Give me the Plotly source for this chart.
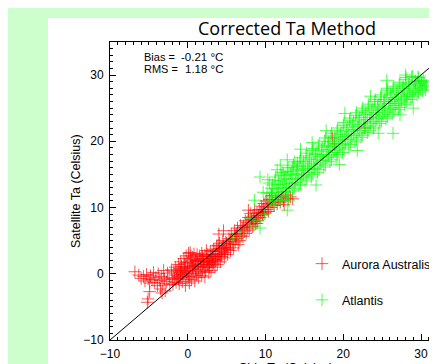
import plotly.graph_objects as go

# ---------------- data ----------------
title_text = "Corrected Ta Method"
x_label = "Ship Ta (Celsius)"
y_label = "Satellite Ta (Celsius)"
series_names = ["Aurora Australis", "Atlantis"]
bias_label, bias_value = "Bias =", "-0.21 °C"
rms_label, rms_value = "RMS =", "1.18 °C"
tick_values = [-10, 0, 10, 20, 30]
one_to_one = [-10, 35]

aurora_x = [
    -6.8, -6.3, -6.0, -5.7, -5.5, -5.3, -5.1, -4.9, -4.8, -4.6,
    -4.4, -4.3, -4.1, -3.9, -3.8, -3.6, -3.5, -3.4, -3.2, -3.1,
    -3.0, -2.9, -2.7, -2.6, -2.4, -2.3, -2.1, -2.0, -5.1, -5.2,
    -4.9, -3.3, -1.9, -1.8, -1.7, -1.6, -1.5, -1.4, -1.3, -1.2,
    -1.1, -1.0, -0.9, -0.9, -0.8, -0.7, -0.6, -0.5, -0.5, -0.4,
    -0.3, -0.2, -0.2, -0.1, 0.0, 0.0, 0.1, 0.2, 0.2, 0.3,
    0.3, 0.4, 0.5, 0.6, 0.6, 0.7, 0.8, 0.9, 1.0, 1.0,
    1.1, 1.2, 1.3, 1.4, 1.4, 1.5, 1.6, 1.7, 1.8, 1.8,
    1.9, 2.0, 2.1, 2.2, 2.2, 2.3, 2.4, 2.5, 2.6, 2.7,
    2.7, 2.8, 2.9, 3.0, 3.0, 3.1, 3.2, 3.3, 3.4, 3.5,
    3.5, 3.6, 3.7, 3.8, 3.9, 4.0, 4.0, 4.1, 4.2, 4.3,
    4.4, 4.5, 4.6, 4.7, 4.8, 4.9, 5.0, 5.1, 5.2, 5.3,
    5.4, 5.5, 5.6, 5.7, 5.8, 5.9, 6.0, 6.1, 6.2, 6.3,
    6.4, 6.5, 6.6, 6.7, 6.8, 6.9, 7.0, 7.1, 7.2, 7.3,
    7.4, 7.5, 7.6, 7.7, 7.8, 7.9, 8.0, 8.1, 8.2, 8.3,
    8.4, 8.5, 8.6, 8.7, 8.8, 8.9, 9.0, 9.1, 9.2, 9.3,
    9.4, 9.5, 9.6, 9.7, 9.8, 9.9, 10.0, 10.1, 10.2, 10.3,
    10.5, 10.7, 10.9, 11.1, 11.3, 11.5, 11.7, 11.9, 12.1, 12.3,
    12.6, 12.9, 13.2, 13.5, 0.3, 4.0, 4.6, 7.8, 18.6, 22.8,
    -0.7, -0.1, 0.5, 1.1, 1.7, 2.4, 3.1, 3.6, -1.2, 0.9,
    2.0, 2.9, 4.4, 5.0, 6.1, 8.9, 10.4, 18.9, 12.4, 10.8,
    -1.5, -1.0, -0.4, 0.1, 0.7, 1.2, 1.6, 2.1, 2.6, 3.2,
    3.8, 4.3, 4.8, -0.9, -0.3, 0.4, 1.3, 1.9, 2.5, 3.3,
    4.1, 4.7, 5.5, 6.3, 7.1, 8.5, 9.7, 0.8, 2.8, 3.9,
]
aurora_y = [
    0.3, -0.2, -0.7, -0.4, -1.1, -0.1, -0.8, -1.4, -0.3, -0.9,
    0.2, -1.3, -0.6, -1.8, 0.0, -1.0, -2.3, -0.4, -1.5, 0.5,
    -0.8, -2.6, -1.2, 0.1, -0.6, -1.7, 0.6, -0.9, -3.8, -4.3,
    -2.7, -2.9, -1.6, 0.3, -0.7, 1.0, -1.3, 0.5, -0.4, 1.4,
    -1.5, 0.2, -0.6, 1.8, 1.1, -1.2, 0.6, -0.3, 2.3, 1.5,
    -1.8, 0.1, 2.7, -0.8, 0.9, 1.7, 3.1, -1.4, 0.5, 2.1,
    -0.4, 1.3, -0.9, 0.8, 2.5, 0.0, 1.6, -1.1, 2.2, 0.6,
    -0.2, 2.9, 1.4, -0.6, 1.1, 2.7, 0.3, 1.9, 3.1, -0.3,
    0.6, 2.2, 1.4, -0.5, 2.8, 0.4, 3.5, 1.2, 2.0, 0.2,
    2.6, 1.0, 3.4, 1.8, 0.5, 2.9, 1.3, 3.7, 2.1, 1.0,
    3.4, 2.6, 4.2, 1.4, 3.0, 2.2, 3.8, 4.6, 1.8, 3.4,
    2.6, 5.0, 4.2, 2.4, 3.2, 4.8, 4.0, 2.9, 3.7, 5.3,
    4.5, 3.5, 6.0, 5.2, 4.4, 3.9, 6.5, 4.8, 5.6, 5.3,
    6.9, 4.4, 6.1, 5.0, 7.3, 5.8, 6.6, 5.6, 7.2, 6.4,
    8.0, 6.1, 7.7, 6.9, 8.5, 6.6, 7.4, 9.1, 8.2, 7.1,
    8.7, 7.9, 9.6, 7.6, 8.4, 9.2, 8.0, 8.8, 9.7, 8.5,
    9.3, 10.2, 8.9, 9.7, 10.6, 9.3, 10.1, 11.0, 9.7, 10.5,
    11.2, 10.0, 10.8, 10.3, 11.2, 10.5, 11.5, 10.8, 11.7, 11.0,
    11.9, 11.3, 11.6, 11.3, 3.2, 6.0, 6.5, 9.6, 20.5, 22.0,
    0.0, 0.3, 1.9, 1.9, 1.0, 1.8, 2.4, 2.0, -0.8, 1.2,
    1.6, 2.3, 3.9, 4.6, 5.9, 7.6, 9.4, 19.6, 10.4, 11.8,
    -0.2, 0.8, 0.4, -0.5, 1.1, 0.1, 2.3, 0.9, 1.4, 2.6,
    2.7, 2.9, 3.6, -0.1, 1.0, 2.7, 2.0, 2.6, 2.9, 1.6,
    3.0, 3.9, 4.9, 6.0, 7.0, 8.1, 9.1, 3.0, 1.7, 4.3,
]

atlantis_x = [
    5.8, 6.7, 8.0, 8.5, 9.0, 9.3, 8.6, 9.3, 9.7, 10.2,
    10.3, 11.5, 12.8, 12.3, 14.1, 13.5, 12.8, 7.2, 9.9, 10.0,
    10.5, 10.7, 10.6, 10.8, 10.5,
    11.1, 10.9, 11.1, 10.9, 11.2,
    11.3, 11.5, 11.4, 11.6, 11.3,
    11.9, 11.7, 11.9, 11.7, 12.0,
    12.1, 12.3, 12.2, 12.4, 12.1,
    12.7, 12.5, 12.7, 12.5, 12.8,
    12.9, 13.1, 13.0, 13.2, 12.9,
    13.5, 13.3, 13.5, 13.3, 13.6,
    13.7, 13.9, 13.8, 14.0, 13.7,
    14.3, 14.1, 14.3, 14.1, 14.4,
    14.5, 14.7, 14.6, 14.8, 14.5,
    15.1, 14.9, 15.1, 14.9, 15.2,
    15.3, 15.5, 15.4, 15.6, 15.3,
    15.9, 15.7, 15.9, 15.7, 16.0,
    16.1, 16.3, 16.2, 16.4, 16.1,
    16.7, 16.5, 16.7, 16.5, 16.8,
    16.9, 17.1, 17.0, 17.2, 16.9,
    17.5, 17.3, 17.5, 17.3, 17.6,
    17.7, 17.9, 17.8, 18.0, 17.7,
    18.3, 18.1, 18.3, 18.1, 18.4,
    18.5, 18.7, 18.6, 18.8, 18.5,
    19.1, 18.9, 19.1, 18.9, 19.2,
    19.3, 19.5, 19.4, 19.6, 19.3,
    19.9, 19.7, 19.9, 19.7, 20.0,
    20.1, 20.3, 20.2, 20.4, 20.1,
    20.7, 20.5, 20.7, 20.5, 20.8,
    20.9, 21.1, 21.0, 21.2, 20.9,
    21.5, 21.3, 21.5, 21.3, 21.6,
    21.7, 21.9, 21.8, 22.0, 21.7,
    22.3, 22.1, 22.3, 22.1, 22.4,
    22.5, 22.7, 22.6, 22.8, 22.5,
    23.1, 22.9, 23.1, 22.9, 23.2,
    23.3, 23.5, 23.4, 23.6, 23.3,
    23.9, 23.7, 23.9, 23.7, 24.0,
    24.1, 24.3, 24.2, 24.4, 24.1,
    24.7, 24.5, 24.7, 24.5, 24.8,
    24.9, 25.1, 25.0, 25.2, 24.9,
    25.5, 25.3, 25.5, 25.3, 25.6,
    25.7, 25.9, 25.8, 26.0, 25.7,
    26.3, 26.1, 26.3, 26.1, 26.4,
    26.5, 26.7, 26.6, 26.8, 26.5,
    27.1, 26.9, 27.1, 26.9, 27.2,
    27.3, 27.5, 27.4, 27.6, 27.3,
    27.9, 27.7, 27.9, 27.7, 28.0,
    28.1, 28.3, 28.2, 28.4, 28.1,
    28.7, 28.5, 28.7, 28.5, 28.8,
    28.9, 29.1, 29.0, 29.2, 28.9,
    29.5, 29.3, 29.5, 29.3, 29.6,
    29.7, 29.9, 29.8, 30.0, 29.7,
    30.2, 30.4, 30.1, 30.3, 30.6, 30.7, 30.5,
    25.6, 25.6, 30.1, 29.0, 27.3, 26.4, 16.0, 17.8, 20.2,
    14.5, 23.5, 19.5, 21.8, 24.5, 16.5, 11.9, 13.0, 28.0,
]
atlantis_y = [
    5.4, 5.8, 8.3, 7.2, 8.0, 6.9, 11.1, 14.6, 12.3, 12.2,
    14.2, 15.7, 17.2, 15.2, 16.7, 16.0, 9.6, 6.4, 9.0, 10.9,
    10.3, 11.0, 12.1, 12.9, 13.7,
    10.5, 11.6, 12.3, 13.4, 14.1,
    11.0, 11.8, 12.8, 13.5, 14.6,
    11.1, 12.2, 13.0, 14.0, 14.9,
    11.6, 12.4, 13.5, 14.3, 15.3,
    11.8, 12.9, 13.7, 14.8, 15.5,
    12.3, 13.1, 14.2, 15.0, 16.0,
    12.5, 13.6, 14.4, 15.4, 16.4,
    12.9, 13.8, 14.9, 15.7, 16.9,
    13.3, 14.3, 15.1, 16.2, 17.0,
    13.5, 14.6, 15.6, 16.4, 17.5,
    14.0, 14.9, 15.9, 16.9, 17.8,
    14.3, 15.3, 16.2, 17.2, 18.2,
    14.6, 15.7, 16.6, 17.5, 18.6,
    15.0, 15.9, 16.9, 18.0, 18.9,
    15.3, 16.4, 17.3, 18.2, 19.3,
    15.7, 16.7, 17.7, 18.7, 19.6,
    16.1, 17.1, 18.0, 19.1, 20.0,
    16.4, 17.5, 18.5, 19.4, 20.5,
    16.9, 17.8, 18.8, 19.9, 20.8,
    17.2, 18.3, 19.2, 20.2, 21.2,
    17.6, 18.6, 19.6, 20.6, 21.6,
    18.0, 19.0, 20.0, 21.0, 22.0,
    18.3, 19.4, 20.3, 21.4, 22.4,
    18.8, 19.7, 20.7, 21.7, 22.8,
    19.1, 20.2, 21.1, 22.1, 23.1,
    19.5, 20.5, 21.5, 22.5, 23.5,
    19.9, 20.9, 21.8, 22.9, 23.9,
    20.2, 21.2, 22.2, 23.2, 24.3,
    20.6, 21.6, 22.6, 23.6, 24.6,
    20.9, 22.0, 22.9, 24.0, 25.0,
    21.3, 22.3, 23.3, 24.3, 25.3,
    21.6, 22.7, 23.6, 24.7, 25.6,
    22.0, 23.0, 24.0, 25.0, 26.0,
    22.3, 23.4, 24.3, 25.3, 26.3,
    22.7, 23.7, 24.7, 25.6, 26.7,
    23.0, 24.0, 25.0, 26.0, 27.0,
    23.4, 24.4, 25.3, 26.3, 27.3,
    23.7, 24.7, 25.7, 26.6, 27.7,
    24.1, 25.0, 26.0, 27.0, 28.0,
    24.4, 25.4, 26.3, 27.3, 28.3,
    24.8, 25.7, 26.7, 27.6, 28.6,
    25.1, 26.1, 27.0, 28.0, 28.9,
    25.5, 26.4, 27.3, 28.3, 29.3,
    25.9, 26.8, 27.6, 28.6, 29.6,
    26.3, 27.1, 27.9, 28.8, 29.7,
    26.7, 27.4, 28.2, 29.0, 29.8,
    27.0, 27.7, 28.4, 29.1, 29.7,
    27.3, 28.0, 28.6, 29.2, 29.6,
    27.6, 28.2, 28.7, 29.2, 27.8, 28.4, 29.0,
    29.2, 28.0, 28.9, 25.0, 24.0, 21.2, 19.8, 21.6, 24.2,
    18.8, 26.8, 16.5, 18.6, 21.2, 13.4, 16.4, 11.0, 30.0,
]

# ---------------- layout constants ----------------
# the page body adds an 8px offset; positions below are page pixels
OFF = 8
W, H = 437, 364
PLOT_L, PLOT_T, PLOT_B = 110, 42, 340          # page px of plot edges
ML = PLOT_L - OFF
MT = PLOT_T - OFF
MB = H - (PLOT_B - OFF)
MR = 0
PW, PH = W - ML - MR, H - MT - MB
X_PER_UNIT, Y_PER_UNIT = 7.775, 6.625


def px_x(px):
    return (px - OFF - ML) / PW


def px_y(py):
    return (H - MB - (py - OFF)) / PH


FONT = "Liberation Sans, Arial, sans-serif"
RED = "rgba(255,0,0,0.68)"
GREEN = "rgba(0,255,0,0.68)"

fig = go.Figure()
fig.add_trace(go.Scatter(
    x=aurora_x, y=aurora_y, mode="markers", name=series_names[0],
    legendgroup="a",
    marker=dict(symbol="cross-thin-open", size=9, color=RED,
                line=dict(width=1, color=RED)),
))
fig.add_trace(go.Scatter(
    x=atlantis_x, y=atlantis_y, mode="markers", name=series_names[1],
    legendgroup="b",
    marker=dict(symbol="cross-thin-open", size=9, color=GREEN,
                line=dict(width=1, color=GREEN)),
))
fig.add_trace(go.Scatter(
    x=one_to_one, y=one_to_one, mode="lines", showlegend=False,
    line=dict(color="black", width=1), hoverinfo="skip",
))

axis_common = dict(
    showgrid=False, zeroline=False, showline=True, linecolor="black",
    linewidth=1, ticks="inside", ticklen=6, tickwidth=1, tickcolor="black",
    tickvals=tick_values, tickfont=dict(family=FONT, size=12, color="black"),
    minor=dict(ticks="inside", ticklen=3, tickwidth=1, tickcolor="black",
               dtick=1, showgrid=False),
)

fig.update_layout(
    width=W, height=H,
    margin=dict(l=ML, r=MR, t=MT, b=MB, pad=0, autoexpand=False),
    paper_bgcolor="#ccffcc", plot_bgcolor="white",
    xaxis=dict(range=[-10, -10 + PW / X_PER_UNIT], mirror="allticks",
               ticklabelstandoff=3, automargin=False, **axis_common),
    yaxis=dict(range=[-10, -10 + PH / Y_PER_UNIT], mirror=False,
               ticklabelstandoff=3, automargin=False, **axis_common),
    showlegend=True,
    legend=dict(x=px_x(302), y=px_y(249), xanchor="left", yanchor="top",
                bgcolor="rgba(0,0,0,0)", borderwidth=0,
                font=dict(family=FONT, size=12.5, color="black"),
                tracegroupgap=17, itemclick=False, itemdoubleclick=False),
    shapes=[dict(type="rect", xref="paper", yref="paper",
                 x0=px_x(48), x1=px_x(W + 20), y0=px_y(H + 20), y1=px_y(18),
                 fillcolor="white", line=dict(width=0), layer="below")],
    hovermode=False,
)

ann = [
    dict(text=title_text, x=px_x(287), y=px_y(28), xanchor="center",
         yanchor="middle", font=dict(family="Open Sans, sans-serif", size=18,
                                     color="black")),
    dict(text=bias_label, x=px_x(142), y=px_y(57), xanchor="left",
         yanchor="middle", font=dict(family=FONT, size=11, color="black")),
    dict(text=bias_value, x=px_x(225), y=px_y(57), xanchor="right",
         yanchor="middle", font=dict(family=FONT, size=11.5, color="black")),
    dict(text=rms_label, x=px_x(142), y=px_y(69), xanchor="left",
         yanchor="middle", font=dict(family=FONT, size=11, color="black")),
    dict(text=rms_value, x=px_x(225), y=px_y(69), xanchor="right",
         yanchor="middle", font=dict(family=FONT, size=11.5, color="black")),
    dict(text=y_label, x=px_x(76), y=0.5, xanchor="center", yanchor="middle",
         textangle=-90, font=dict(family=FONT, size=12.5, color="black")),
    dict(text=x_label, x=px_x(286), y=px_y(359), xanchor="center",
         yanchor="top", font=dict(family=FONT, size=12.5, color="black")),
]
for a in ann:
    a.update(xref="paper", yref="paper", showarrow=False)
fig.update_layout(annotations=ann)

fig.write_html("out.html", config={"displayModeBar": False})
